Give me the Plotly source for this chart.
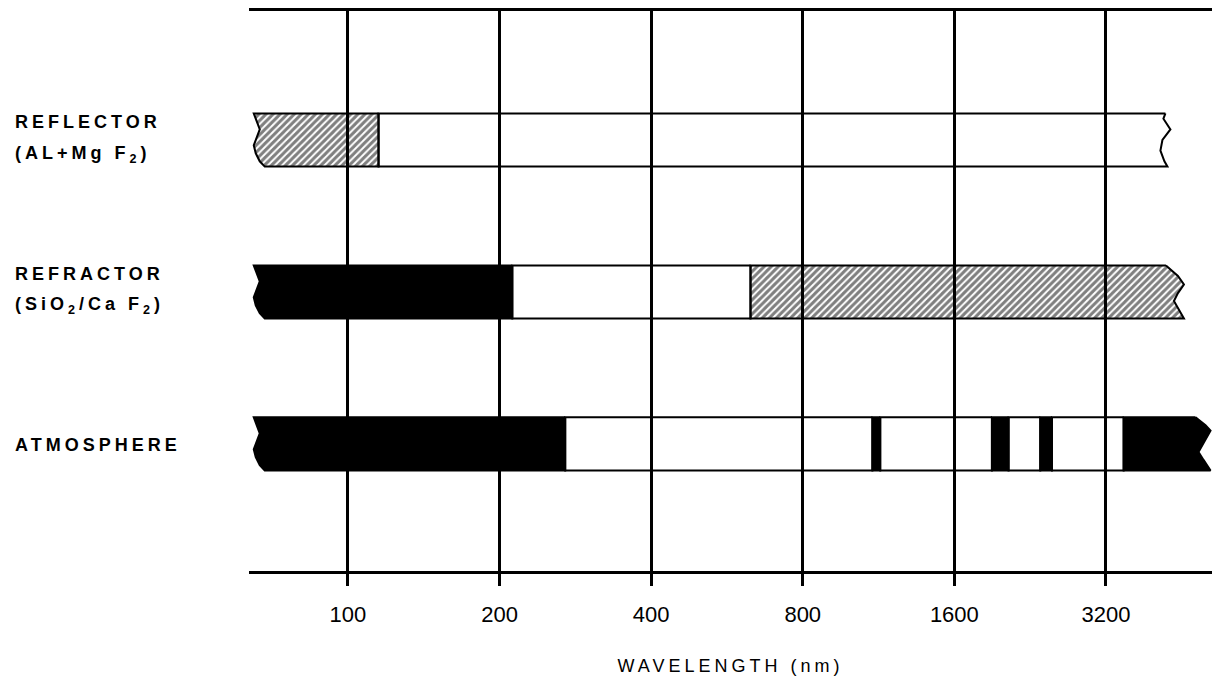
import numpy as np
import plotly.graph_objects as go

W, H = 1212, 690

# ---------------- data ----------------
row_names = ["REFLECTOR", "REFRACTOR", "ATMOSPHERE"]
row_materials = ["(AL+Mg F<sub>2</sub>)", "(SiO<sub>2</sub>/Ca F<sub>2</sub>)", ""]

# band boundaries in nm and the kind of each band between consecutive boundaries
reflector_edges = [65, 115, 4200]
reflector_kinds = ["hatched", "open"]

refractor_edges = [65, 212, 630, 4210]
refractor_kinds = ["opaque", "open", "hatched"]

atmosphere_edges = [65, 270, 1100, 1140, 1900, 2050, 2370, 2500, 3470, 4820]
atmosphere_kinds = ["opaque", "open", "opaque", "open", "opaque", "open",
                    "opaque", "open", "opaque"]

tick_values = [100, 200, 400, 800, 1600, 3200]
tick_labels = ["100", "200", "400", "800", "1600", "3200"]

x_title = "WAVELENGTH (nm)"

# ---------------- layout / style ----------------
X_MIN, X_MAX = 63.6, 5197          # axis range (nm)
X_DOMAIN = [249 / W, 1.0]
Y_DOMAIN = [1 - 571 / H, 1 - 11 / H]
Y_RANGE = [2.836, -0.849]
HALF = 0.175                        # half bar height in row units

PX_PER_DECADE = (X_DOMAIN[1] - X_DOMAIN[0]) * W / (np.log10(X_MAX) - np.log10(X_MIN))

# break-line decorations (t along bar height, pixel offset)
LEFT_BREAK = [(0, 0), (0.15, 3), (0.3, 6), (0.45, 3), (0.6, 0), (0.75, 2), (0.9, 6), (1, 11)]
RIGHT_BREAKS = [
    [(0, 0), (0.1, -2), (0.3, 5), (0.5, -3), (0.7, -5), (0.9, -1), (1, 2)],
    [(0, 0), (0.2, 12), (0.36, 18), (0.52, 12), (0.67, 8), (0.85, 13), (1, 18)],
    [(0, 0), (0.15, 10), (0.25, 15), (0.5, 7), (0.65, 3), (0.8, 8), (1, 15)],
]
STRAIGHT = [(0, 0), (1, 0)]


def shift(x, px):
    return x * 10 ** (px / PX_PER_DECADE)


def polygon(x0, x1, yc, left, right):
    top, bot = yc - HALF, yc + HALF
    xs, ys = [], []
    for t, o in right:
        xs.append(shift(x1, o)); ys.append(top + t * (bot - top))
    for t, o in reversed(left):
        xs.append(shift(x0, o)); ys.append(top + t * (bot - top))
    xs.append(xs[0]); ys.append(ys[0])
    return xs, ys


def spaced(text, px):
    return f'<span style="letter-spacing:{px}px">{text}</span>'


fig = go.Figure()

rows = [
    (reflector_edges, reflector_kinds),
    (refractor_edges, refractor_kinds),
    (atmosphere_edges, atmosphere_kinds),
]

for r, (edges, kinds) in enumerate(rows):
    n = len(kinds)
    for i, kind in enumerate(kinds):
        left = LEFT_BREAK if i == 0 else STRAIGHT
        right = RIGHT_BREAKS[r] if i == n - 1 else STRAIGHT
        xs, ys = polygon(edges[i], edges[i + 1], r, left, right)
        kw = dict(x=xs, y=ys, mode="lines", fill="toself", hoverinfo="skip",
                  showlegend=False, line=dict(color="black", width=2))
        if kind == "opaque":
            kw["fillcolor"] = "black"
        elif kind == "open":
            kw["fillcolor"] = "rgba(255,255,255,0)"
        else:
            kw["fillcolor"] = "rgba(255,255,255,0)"
            kw["fillpattern"] = dict(shape="/", fgcolor="black",
                                     bgcolor="rgba(255,255,255,0)",
                                     size=5, solidity=0.6)
        fig.add_trace(go.Scatter(**kw))

FONT = "Liberation Sans, Arial, Helvetica, sans-serif"
LABEL_FONT = dict(size=18, color="black", family=FONT, weight="bold")

# row labels
for r, (name, mat) in enumerate(zip(row_names, row_materials)):
    if mat:
        fig.add_annotation(x=13 / W, xref="paper", y=r, yref="y", text=spaced(name, 4),
                           showarrow=False, xanchor="left", yanchor="middle",
                           yshift=18, font=LABEL_FONT)
        fig.add_annotation(x=13 / W, xref="paper", y=r, yref="y", text=spaced(mat, 4),
                           showarrow=False, xanchor="left", yanchor="middle",
                           yshift=-14, font=LABEL_FONT)
    else:
        fig.add_annotation(x=13 / W, xref="paper", y=r, yref="y", text=spaced(name, 4),
                           showarrow=False, xanchor="left", yanchor="middle",
                           yshift=-1, font=LABEL_FONT)

fig.update_layout(
    width=W, height=H,
    margin=dict(l=0, r=0, t=0, b=0),
    paper_bgcolor="white", plot_bgcolor="white",
    showlegend=False, hovermode=False,
    font=dict(family=FONT, color="black", size=18),
    xaxis=dict(
        type="log", range=[np.log10(X_MIN), np.log10(X_MAX)], domain=X_DOMAIN,
        tickmode="array", tickvals=tick_values, ticktext=tick_labels,
        ticks="outside", ticklen=12, tickwidth=2.5, tickcolor="black",
        showline=True, linewidth=2.5, linecolor="black", mirror=True,
        showgrid=True, gridcolor="black", gridwidth=2.5, zeroline=False,
        tickfont=dict(size=22, family=FONT, color="black"),
        ticklabelstandoff=10,
        title=dict(text=spaced(x_title, 4), standoff=34,
                   font=dict(size=18, family=FONT, color="black")),
        automargin=False, fixedrange=True,
    ),
    yaxis=dict(range=Y_RANGE, domain=Y_DOMAIN, visible=False, fixedrange=True),
)

fig.write_html("out.html")
